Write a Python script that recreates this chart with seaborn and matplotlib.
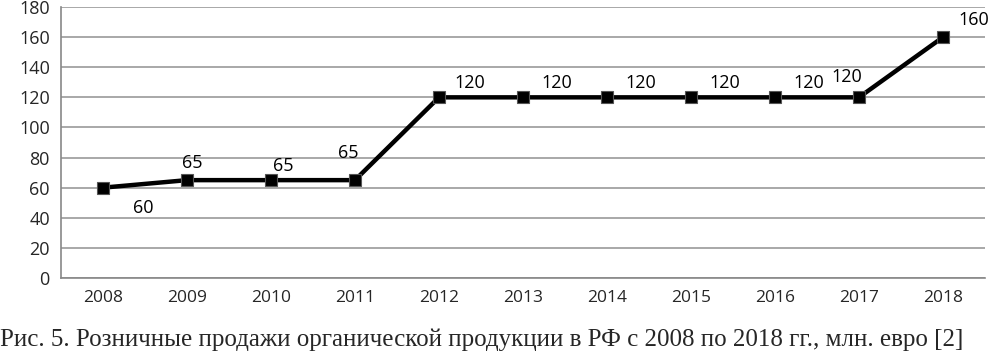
import numpy as np
import pandas as pd
import matplotlib
matplotlib.use('Agg')
import matplotlib.pyplot as plt
import seaborn as sns

# ── Data ───────────────────────────────────────────────────────────────────────
years = ['2008', '2009', '2010', '2011', '2012', '2013',
         '2014', '2015', '2016', '2017', '2018']
sales = [60, 65, 65, 65, 120, 120, 120, 120, 120, 120, 160]
y_ticks = [0, 20, 40, 60, 80, 100, 120, 140, 160, 180]
caption = 'Рис. 5. Розничные продажи органической продукции в РФ с 2008 по 2018 гг., млн. евро [2]'

# label offsets (points) relative to each marker
label_offsets = [(29, -15), (4, 12), (9, 10), (-4.5, 19.5), (22, 10), (24, 10),
                 (24, 10), (24, 10), (24, 10), (-9, 15), (22, 12)]

df = pd.DataFrame({'pos': np.arange(len(years)), 'sales': sales})

sns.set_style('white')
plt.rcParams['font.family'] = ['Open Sans', 'DejaVu Sans']

fig = plt.figure(figsize=(9.88, 3.58), dpi=100)
ax = fig.add_axes([0.0617, 0.2235, 0.9353, 0.7569])

sns.lineplot(data=df, x='pos', y='sales', ax=ax, color='black', linewidth=3.2,
             marker='s', markersize=8, markerfacecolor='black',
             markeredgecolor='#555555', markeredgewidth=0.8, zorder=3)

for i, (v, off) in enumerate(zip(sales, label_offsets)):
    ax.annotate(str(v), (i, v), xytext=off, textcoords='offset points',
                ha='center', va='center', fontsize=13, color='black')

ax.set_xlim(-0.5, len(years) - 0.5)
ax.set_ylim(0, 180)
ax.set_yticks(y_ticks)
ax.set_yticklabels([str(t) for t in y_ticks], fontsize=13)
ax.yaxis.grid(True, color='#999999', linewidth=1.2)
ax.set_axisbelow(True)

ax.set_xticks(np.arange(len(years)))
ax.set_xticklabels(years, fontsize=12.5)
ax.set_xticks(np.arange(len(years) + 1) - 0.5, minor=True)
ax.tick_params(axis='x', which='major', length=0, pad=9)
ax.tick_params(axis='x', which='minor', length=5, color='#888888')
ax.tick_params(axis='y', length=5, color='#888888', pad=3)
ax.set_xlabel('')
ax.set_ylabel('')

for side in ['top', 'right']:
    ax.spines[side].set_visible(False)
ax.spines['left'].set_color('#888888')
ax.spines['bottom'].set_color('#888888')
ax.spines['left'].set_linewidth(1.2)
ax.spines['bottom'].set_linewidth(1.2)

fig.text(0.0, 0.02, caption, fontsize=18, family='Liberation Serif',
         ha='left', va='bottom')

plt.savefig('out.png', dpi=100)
